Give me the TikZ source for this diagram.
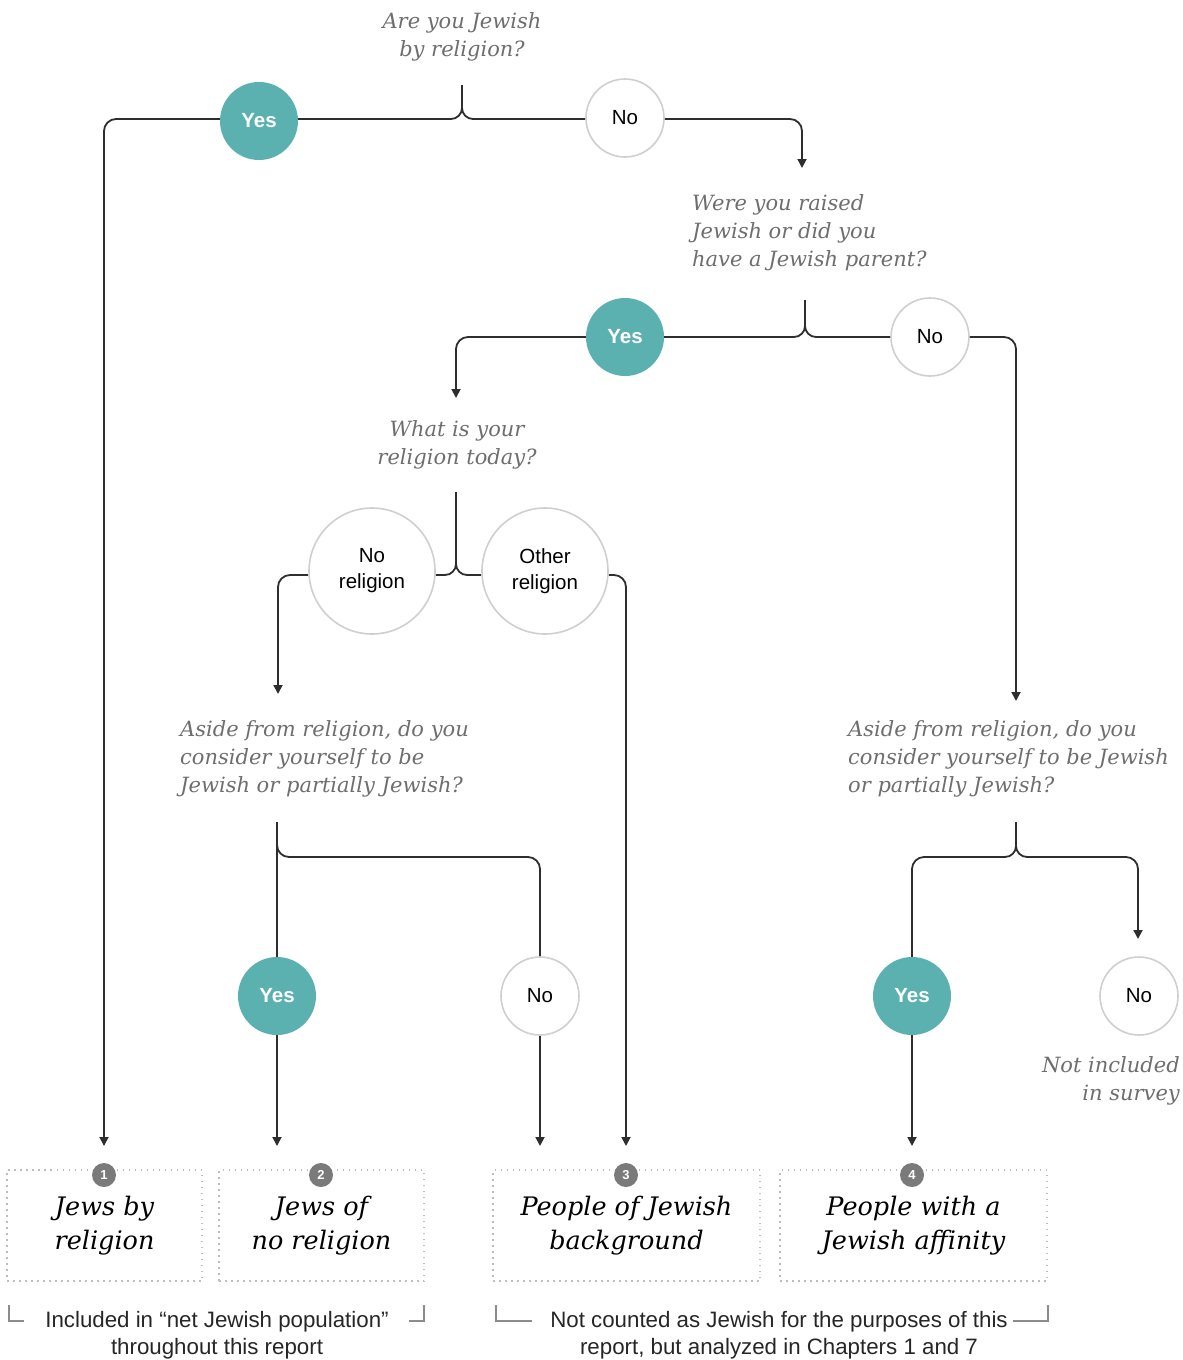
\documentclass[tikz,border=0pt]{standalone}
\usepackage{fontspec}
\setmainfont{Liberation Sans}
\newfontfamily\qfont{DejaVu Serif}
\usetikzlibrary{arrows.meta,calc}
\definecolor{tealc}{HTML}{5BB0B0}
\definecolor{lc}{HTML}{2E2E2E}
\definecolor{cc}{HTML}{CFCFCF}
\definecolor{qc}{HTML}{6E6E6E}
\definecolor{numc}{HTML}{7A7A7A}
\definecolor{boxc}{HTML}{BDBDBD}
\begin{document}
\begin{tikzpicture}[x=1pt,y=-1pt,
  conn/.style={draw=lc, line width=1.8pt},
  arr/.style={conn, -{Triangle[width=9pt,length=9pt]}},
  yesnode/.style={circle, fill=tealc, minimum size=78pt, inner sep=0pt, text=white, font=\bfseries\fontsize{20.5}{22}\selectfont},
  nonode/.style={circle, draw=cc, line width=1.6pt, fill=white, minimum size=78pt, inner sep=0pt, text=black, font=\fontsize{20.5}{22}\selectfont},
  bignode/.style={nonode, minimum size=126pt, align=center, font=\fontsize{20.5}{26}\selectfont},
  question/.style={text=qc, font=\qfont\itshape\fontsize{21}{28.3}\selectfont, inner sep=0pt},
  catbox/.style={draw=boxc, line width=1.5pt, dash pattern=on 1.5pt off 4.5pt, inner sep=0pt, align=center, font=\qfont\itshape\fontsize{25.5}{34}\selectfont},
  numnode/.style={circle, fill=numc, minimum size=24pt, inner sep=0pt, text=white, font=\bfseries\fontsize{13}{14}\selectfont},
  note/.style={text=black!85, font=\fontsize{22.3}{27}\selectfont, inner sep=0pt, align=center},
  brk/.style={draw=black!45, line width=1.2pt}
]
\useasboundingbox (0,0) rectangle (1183,1360);

% questions
\node[question, anchor=north, align=center] (q1) at (462,12) {Are you Jewish\\by religion?};
\node[question, anchor=north west, align=left] (q2) at (692,194) {Were you raised\\Jewish or did you\\have a Jewish parent?};
\node[question, anchor=north, align=center] (q3) at (457,420) {What is your\\religion today?};
\node[question, anchor=north west, align=left] (q4) at (180,720) {Aside from religion, do you\\consider yourself to be\\Jewish or partially Jewish?};
\node[question, anchor=north west, align=left] (q5) at (848,720) {Aside from religion, do you\\consider yourself to be Jewish\\or partially Jewish?};
\node[question, anchor=north east, align=right] (ni) at (1180,1056) {Not included\\in survey};

% junction coordinates
\coordinate (j1t) at (462,85);  \coordinate (j1) at (462,119);
\coordinate (j2t) at (805,300); \coordinate (j2) at (805,337);
\coordinate (j3t) at (456,492); \coordinate (j3) at (456,575);
\coordinate (j4t) at (277,822); \coordinate (j4) at (277,857);
\coordinate (j5t) at (1016,822); \coordinate (j5) at (1016,857);

% arrow ends
\coordinate (a1) at (104,1146);
\coordinate (a2) at (802,168);
\coordinate (a3) at (456,398);
\coordinate (a4) at (1016,701);
\coordinate (a5) at (278,694);
\coordinate (a6) at (626,1146);
\coordinate (a7) at (277,1146);
\coordinate (a8) at (540,1146);
\coordinate (a9) at (1138,939);
\coordinate (a10) at (912,1146);

% answer circles
\node[yesnode] (yes1) at (259,121) {Yes};
\node[nonode] (no1) at (625,118) {No};
\node[yesnode] (yes2) at (625,337) {Yes};
\node[nonode] (no2) at (930,337) {No};
\node[bignode] (nor) at (372,571) {No\\religion};
\node[bignode] (oth) at (545,571) {Other\\religion};
\node[yesnode] (yes4) at (277,996) {Yes};
\node[nonode] (no4) at (540,996) {No};
\node[yesnode] (yes5) at (912,996) {Yes};
\node[nonode] (no5) at (1139,996) {No};

% connectors: question 1
\draw[conn] (j1t) -- ($(j1)+(0,-11)$) to[out=-90,in=0] ($(j1)+(-11,0)$) -- (yes1.east |- j1);
\draw[conn] ($(j1)+(0,-11)$) to[out=-90,in=180] ($(j1)+(11,0)$) -- (no1.west |- j1);
\draw[arr, rounded corners=12pt] (yes1.west |- j1) -| (a1);
\draw[arr, rounded corners=12pt] (no1.east |- j1) -| (a2);

% question 2
\draw[conn] (j2t) -- ($(j2)+(0,-11)$) to[out=-90,in=0] ($(j2)+(-11,0)$) -- (yes2);
\draw[conn] ($(j2)+(0,-11)$) to[out=-90,in=180] ($(j2)+(11,0)$) -- (no2);
\draw[arr, rounded corners=12pt] (yes2) -| (a3);
\draw[arr, rounded corners=12pt] (no2) -| (a4);

% question 3
\draw[conn] (j3t) -- ($(j3)+(0,-11)$) to[out=-90,in=0] ($(j3)+(-11,0)$) -- (nor.east |- j3);
\draw[conn] ($(j3)+(0,-11)$) to[out=-90,in=180] ($(j3)+(11,0)$) -- (oth.west |- j3);
\draw[arr, rounded corners=12pt] (nor.west |- j3) -| (a5);
\draw[arr, rounded corners=12pt] (oth.east |- j3) -| (a6);

% question 4
\draw[conn] (j4t) -- (yes4);
\draw[conn] ($(j4)+(0,-12)$) to[out=-90,in=180] ($(j4)+(12,0)$);
\draw[conn, rounded corners=12pt] ($(j4)+(12,0)$) -| (no4);
\draw[arr] (yes4) -- (a7);
\draw[arr] (no4) -- (a8);

% question 5
\draw[conn] (j5t) -- ($(j5)+(0,-11)$) to[out=-90,in=0] ($(j5)+(-11,0)$);
\draw[conn] ($(j5)+(0,-11)$) to[out=-90,in=180] ($(j5)+(11,0)$);
\draw[conn, rounded corners=12pt] ($(j5)+(-11,0)$) -| (yes5);
\draw[arr, rounded corners=12pt] ($(j5)+(11,0)$) -| (a9);
\draw[arr] (yes5) -- (a10);

% category boxes
\node[catbox, minimum width=195pt, minimum height=111pt] (b1) at (104.5,1225.5) {\raisebox{-3pt}{\parbox{180pt}{\centering Jews by\\religion}}};
\node[catbox, minimum width=205pt, minimum height=111pt] (b2) at (321.5,1225.5) {\raisebox{-3pt}{\parbox{190pt}{\centering Jews of\\no religion}}};
\node[catbox, minimum width=267pt, minimum height=111pt] (b3) at (626.5,1225.5) {\raisebox{-3pt}{\parbox{250pt}{\centering People of Jewish\\background}}};
\node[catbox, minimum width=267pt, minimum height=111pt] (b4) at (913.5,1225.5) {\raisebox{-3pt}{\parbox{250pt}{\centering People with a\\Jewish affinity}}};

\node[numnode] (n1) at (104,1175) {1};
\node[numnode] (n2) at (321,1175) {2};
\node[numnode] (n3) at (626,1175) {3};
\node[numnode] (n4) at (912,1175) {4};

% notes
\node[note, anchor=north] (t1) at (217,1311) {Included in “net Jewish population”\\throughout this report};
\node[note, anchor=north] (t2) at (779,1311) {Not counted as Jewish for the purposes of this\\report, but analyzed in Chapters 1 and 7};

\draw[brk] (9,1305) |- (24,1321);
\draw[brk] (424,1305) |- (409,1321);
\draw[brk] (496,1305) |- (532,1321);
\draw[brk] (1048,1305) |- (1013,1321);
\end{tikzpicture}
\end{document}
